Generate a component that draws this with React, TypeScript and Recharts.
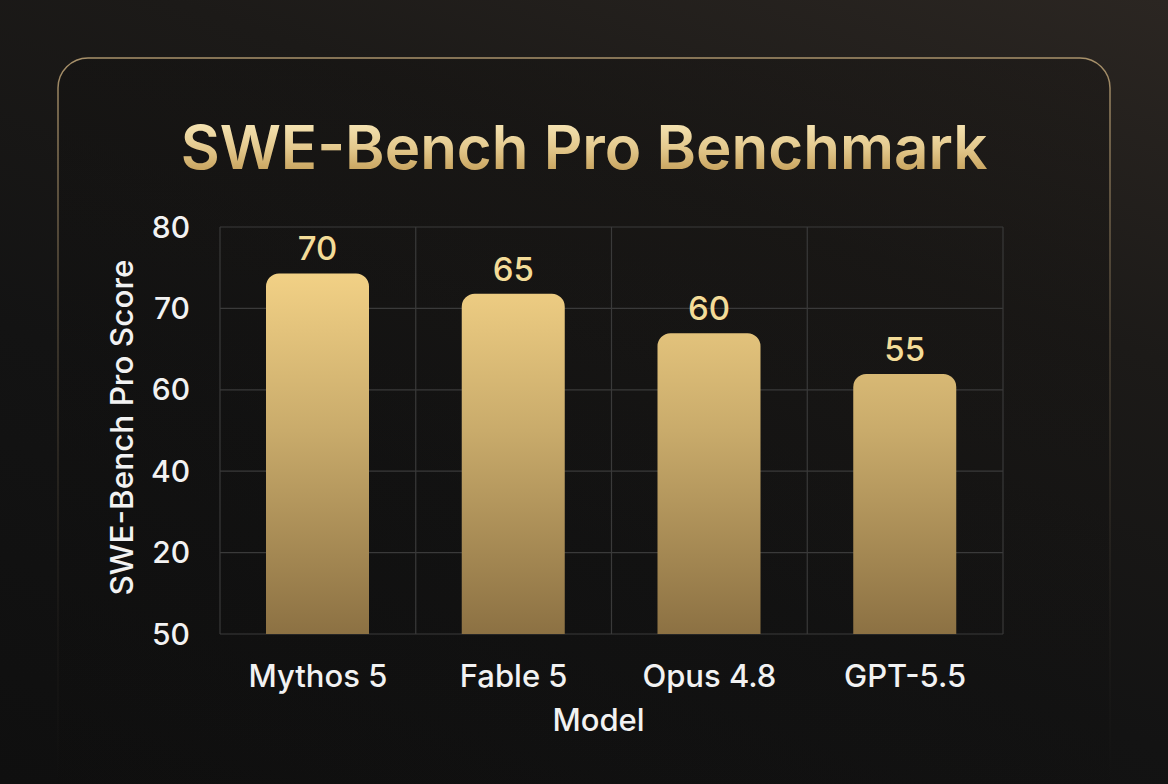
import React from 'react';
import { BarChart, Bar, XAxis, YAxis, CartesianGrid, LabelList } from 'recharts';

const categories = ['Mythos 5', 'Fable 5', 'Opus 4.8', 'GPT-5.5'];
const scoreLabels = [70, 65, 60, 55];
// bar heights, in axis-position units (0 = bottom gridline, 100 = top gridline)
const barHeights = [88.6, 83.6, 73.9, 63.9];
const yTickPositions = [0, 20, 40, 60, 80, 100];
const yTickLabels = ['50', '20', '40', '60', '70', '80'];

const data = categories.map((name, i) => ({ name, height: barHeights[i], score: scoreLabels[i] }));

const FONT = 'Inter, "Noto Sans", sans-serif';

const gridVertical = (props: any) => {
  const off = props?.offset || {};
  const l = off.left ?? 220;
  const w = off.width ?? 783;
  const n = categories.length;
  return Array.from({ length: n + 1 }, (_, i) => l + (i * w) / n);
};

const YLabel = (props: any) => {
  const vb = props.viewBox || { x: 60, y: 227, width: 160, height: 407 };
  const cx = 133;
  const cy = vb.y + vb.height / 2 - 3;
  return (
    <text
      x={cx}
      y={cy}
      transform={`rotate(-90, ${cx}, ${cy})`}
      textAnchor="middle"
      fill="#f2f2f2"
      fontSize={31.5}
      fontWeight={500}
      fontFamily={FONT}
    >
      SWE-Bench Pro Score
    </text>
  );
};

const XLabel = (props: any) => {
  const vb = props.viewBox || { x: 220, y: 634, width: 783, height: 90 };
  return (
    <text
      x={vb.x + vb.width / 2 - 13}
      y={vb.y + 97}
      textAnchor="middle"
      fill="#f2f2f2"
      fontSize={31}
      fontWeight={500}
      fontFamily={FONT}
    >
      Model
    </text>
  );
};

export default function App() {
  return (
    <div
      style={{
        position: 'absolute',
        left: 0,
        top: 0,
        width: 1168,
        height: 784,
        overflow: 'hidden',
        background:
          'linear-gradient(200deg, #2b2622 0%, #1c1a18 30%, #131313 62%, #0f0f0f 100%)',
      }}
    >
      <svg width={1168} height={784} style={{ position: 'absolute', left: 0, top: 0 }}>
        <defs>
          <linearGradient id="cardStroke" gradientUnits="userSpaceOnUse" x1="0" y1="58" x2="0" y2="784">
            <stop offset="0%" stopColor="#a8916a" stopOpacity={1} />
            <stop offset="35%" stopColor="#7d6c52" stopOpacity={0.55} />
            <stop offset="80%" stopColor="#4a4238" stopOpacity={0.15} />
            <stop offset="100%" stopColor="#4a4238" stopOpacity={0} />
          </linearGradient>
          <linearGradient id="cardFill" gradientUnits="userSpaceOnUse" x1="0" y1="58" x2="0" y2="784">
            <stop offset="0%" stopColor="#0c0b0a" stopOpacity={0.25} />
            <stop offset="100%" stopColor="#0c0b0a" stopOpacity={0.1} />
          </linearGradient>
          <linearGradient id="titleFill" gradientUnits="userSpaceOnUse" x1="0" y1="122" x2="0" y2="170">
            <stop offset="0%" stopColor="#f6e5b5" />
            <stop offset="55%" stopColor="#e3c88c" />
            <stop offset="100%" stopColor="#c9a560" />
          </linearGradient>
        </defs>
        <path
          d="M58,800 L58,88 A30,30 0 0 1 88,58 L1080,58 A30,30 0 0 1 1110,88 L1110,800"
          fill="url(#cardFill)"
          stroke="url(#cardStroke)"
          strokeWidth={1.5}
        />
        <text
          x={584}
          y={169}
          textAnchor="middle"
          fontFamily={FONT}
          fontSize={60}
          fontWeight={600}
          fill="url(#titleFill)"
        >
          SWE-Bench Pro Benchmark
        </text>
      </svg>
      <div style={{ position: 'absolute', left: 0, top: 0 }}>
        <BarChart
          width={1168}
          height={784}
          data={data}
          margin={{ top: 227, right: 165, bottom: 60, left: 60 }}
        >
          <defs>
            <linearGradient id="barFill" gradientUnits="userSpaceOnUse" x1="0" y1="227" x2="0" y2="634">
              <stop offset="0%" stopColor="#f7d98e" />
              <stop offset="12%" stopColor="#f1d085" />
              <stop offset="50%" stopColor="#c9ab6b" />
              <stop offset="100%" stopColor="#8c7143" />
            </linearGradient>
          </defs>
          <CartesianGrid
            stroke="#3a3a3a"
            strokeWidth={1.2}
            verticalCoordinatesGenerator={gridVertical}
          />
          <XAxis
            dataKey="name"
            height={90}
            axisLine={false}
            tickLine={false}
            tickSize={0}
            tickMargin={31}
            tick={{ fill: '#f2f2f2', fontSize: 31, fontWeight: 500, fontFamily: FONT }}
            label={<XLabel />}
          />
          <YAxis
            width={160}
            type="number"
            domain={[0, 100]}
            ticks={yTickPositions}
            interval={0}
            axisLine={false}
            tickLine={false}
            tickSize={0}
            tickMargin={30}
            tickFormatter={(v: number) => yTickLabels[yTickPositions.indexOf(v)] ?? ''}
            tick={{ fill: '#f2f2f2', fontSize: 30, fontWeight: 500, fontFamily: FONT }}
            label={<YLabel />}
          />
          <Bar
            dataKey="height"
            fill="url(#barFill)"
            barSize={103}
            radius={[13, 13, 0, 0]}
            isAnimationActive={false}
          >
            <LabelList
              dataKey="score"
              position="top"
              offset={13}
              fill="#f4dc98"
              fontSize={33}
              fontWeight={500}
              fontFamily={FONT}
            />
          </Bar>
        </BarChart>
      </div>
    </div>
  );
}
